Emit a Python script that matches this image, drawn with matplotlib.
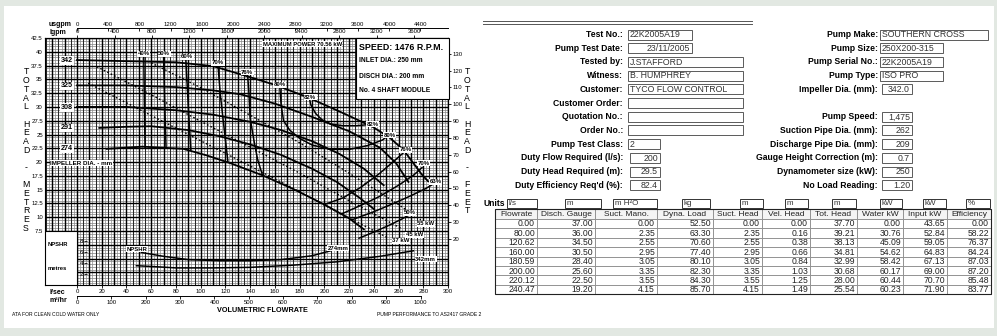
import numpy as np
import matplotlib
matplotlib.use("Agg")
import matplotlib.pyplot as plt
from matplotlib.patches import Rectangle

plt.rcParams['font.family'] = ['Liberation Sans', 'DejaVu Sans']

# ---------------- pump curve data ----------------
# impeller diameter curves: flow (l/s) against total head (m)
imp_342_q = [0, 40, 80, 110, 137, 160, 186, 213, 239, 253, 264, 272, 279, 284]
imp_342_h = [38.5, 38.3, 38.1, 37.4, 35.6, 34.0, 31.8, 29.1, 26.4, 24.4, 22.2, 19.8, 17.7, 16.5]
imp_325_q = [0, 40, 80, 110, 132, 160, 190, 220, 245, 258, 268]
imp_325_h = [33.9, 33.9, 33.6, 33.0, 32.3, 30.6, 28.2, 25.6, 22.6, 19.8, 16.4]
imp_308_q = [0, 40, 80, 110, 140, 165, 190, 212, 232, 248]
imp_308_h = [30.0, 30.0, 29.4, 28.6, 27.3, 25.8, 23.8, 21.5, 18.8, 15.8]
imp_291_q = [18, 40, 60, 90, 115, 140, 165, 190, 210, 228, 240]
imp_291_h = [26.2, 26.4, 26.5, 25.8, 24.7, 23.2, 21.3, 18.8, 16.4, 13.6, 11.5]
imp_274_q = [24, 53, 86, 105, 124, 150, 175, 200, 220, 232]
imp_274_h = [22.4, 22.8, 22.4, 21.2, 19.8, 17.6, 15.1, 12.3, 9.8, 7.8]
impellers = ["342", "325", "308", "291", "274"]

# efficiency contours (flow l/s, head m)
eff40_q = [54, 54.5, 55]
eff40_h = [39.0, 30.0, 22.7]
eff50_q = [70, 71, 72]
eff50_h = [39.0, 30.0, 22.6]
eff60_q = [88, 90, 92]
eff60_h = [38.6, 30.0, 22.3]
eff70_q = [114, 116, 119, 122]
eff70_h = [37.5, 32.0, 26.0, 20.1]
eff76_q = [138, 139, 140, 143, 146, 150]
eff76_h = [35.7, 32.5, 28.0, 24.0, 20.5, 17.6]
eff80_q = [164, 165, 167, 172, 180, 190, 205, 220, 235, 247, 251]
eff80_h = [33.6, 30.5, 27.5, 25.8, 24.3, 23.1, 22.3, 22.3, 23.0, 24.0, 24.7]
eff82_q = [188, 189, 193, 198, 205, 215, 226, 236]
eff82_h = [31.5, 30.4, 28.8, 27.7, 26.9, 26.6, 26.6, 26.8]
eff76r_q = [200, 215, 230, 245, 258, 265]
eff76r_h = [12.3, 13.5, 15.5, 18.0, 20.5, 21.9]
eff70r_q = [214, 230, 245, 260, 272, 279]
eff70r_h = [10.6, 12.2, 13.8, 15.8, 17.6, 19.0]
eff63r_q = [222, 240, 255, 270, 282, 288]
eff63r_h = [9.5, 11.0, 12.4, 13.9, 15.2, 16.0]
eff50r_q = [228, 240, 252, 262, 267]
eff50r_h = [6.2, 7.3, 8.5, 9.6, 10.2]

# absorbed power lines
pow55_q = [60, 100, 140, 180, 220, 260, 278]
pow55_h = [38.0, 33.5, 28.5, 23.5, 18.0, 12.3, 9.5]
pow45_q = [16, 60, 100, 140, 180, 220, 262]
pow45_h = [37.3, 32.2, 27.4, 22.7, 18.0, 13.0, 8.0]
pow37_q = [9, 50, 90, 126, 170, 210, 252]
pow37_h = [34.3, 29.6, 25.0, 20.9, 15.8, 11.0, 6.2]

# NPSH required (m)
npshr_274_q = [52, 70, 90, 115, 140, 165, 190, 205]
npshr_274_n = [5.9, 5.2, 4.6, 4.4, 4.4, 4.6, 5.3, 6.2]
npshr_342_q = [48, 65, 80, 110, 140, 175, 210, 245, 272]
npshr_342_n = [3.5, 3.3, 3.1, 3.1, 3.2, 3.6, 4.2, 5.2, 6.2]

# ---------------- test sheet data ----------------
left_labels = ["Test No.:", "Pump Test Date:", "Tested by:", "Witness:", "Customer:",
               "Customer Order:", "Quotation No.:", "Order No.:", "Pump Test Class:",
               "Duty Flow Required (l/s):", "Duty Head Required (m):",
               "Duty Efficiency Req'd (%):"]
left_values = ["22K2005A19", "23/11/2005", "J.STAFFORD", "B. HUMPHREY", "TYCO FLOW CONTROL",
               "", "", "", "2", "200", "29.5", "82.4"]
right_labels = ["Pump Make:", "Pump Size:", "Pump Serial No.:", "Pump Type:",
                "Impeller Dia. (mm):", "", "Pump Speed:", "Suction Pipe Dia. (mm):",
                "Discharge Pipe Dia. (mm):", "Gauge Height Correction (m):",
                "Dynamometer size (kW):", "No Load Reading:"]
right_values = ["SOUTHERN CROSS", "250X200-315", "22K2005A19", "ISO PRO", "342.0", None,
                "1,475", "262", "209", "0.7", "250", "1.20"]

units = ["l/s", "m", "m H²O", "kg", "m", "m", "m", "kW", "kW", "%"]
headers = ["Flowrate", "Disch. Gauge", "Suct. Mano.", "Dyna. Load", "Suct. Head",
           "Vel. Head", "Tot. Head", "Water kW", "Input kW", "Efficiency"]
flowrate = [0.00, 80.00, 120.62, 160.00, 180.59, 200.00, 220.12, 240.47]
disch_gauge = [37.00, 36.00, 34.50, 30.50, 28.40, 25.60, 22.50, 19.20]
suct_mano = [0.00, 2.35, 2.55, 2.95, 3.05, 3.35, 3.55, 4.15]
dyna_load = [52.50, 63.30, 70.60, 77.40, 80.10, 82.30, 84.30, 85.70]
suct_head = [0.00, 2.35, 2.55, 2.95, 3.05, 3.35, 3.55, 4.15]
vel_head = [0.00, 0.16, 0.38, 0.66, 0.84, 1.03, 1.25, 1.49]
tot_head = [37.70, 39.21, 38.13, 34.81, 32.99, 30.68, 28.00, 25.54]
water_kw = [0.00, 30.76, 45.09, 54.62, 58.42, 60.17, 60.44, 60.23]
input_kw = [43.65, 52.84, 59.05, 64.83, 67.13, 69.00, 70.70, 71.90]
efficiency = [0.00, 58.22, 76.37, 84.24, 87.03, 87.20, 85.48, 83.77]

# ---------------- figure ----------------
W, H = 997, 336
fig = plt.figure(figsize=(W / 100, H / 100), dpi=100)
fig.patch.set_facecolor('#e2e8e2')


def rect(x0, y0, x1, y1):
    return [x0 / W, 1 - y1 / H, (x1 - x0) / W, (y1 - y0) / H]


bg = fig.add_axes([0, 0, 1, 1], zorder=-10)
bg.set_xlim(0, W); bg.set_ylim(H, 0); bg.axis('off')
bg.add_patch(Rectangle((4, 6), 990, 322, fc='white', ec='none'))

# ---- performance chart ----
ax = fig.add_axes(rect(45, 38, 448, 285), zorder=1)
Q0, Q1 = -25.9, 300.0
H0, H1 = -2.29, 42.5
ax.set_xlim(Q0, Q1); ax.set_ylim(H0, H1)
ax.set_facecolor('white')

ax.vlines(np.arange(-25, 300.01, 2.5), H0, H1, colors='#8c8c8c', lw=0.5, zorder=1)
ax.vlines(np.arange(-25, 300.01, 5), H0, H1, colors='#262626', lw=0.75, zorder=1.1)
ax.vlines(np.arange(-20, 300.01, 10), H0, H1, colors='black', lw=1.0, zorder=1.2)
ax.hlines(np.arange(-2, 42.51, 0.5), Q0, Q1, colors='#8c8c8c', lw=0.55, zorder=1)
ax.hlines(np.arange(0, 42.51, 2.5), Q0, Q1, colors='black', lw=1.0, zorder=1.2)

for s in ax.spines.values():
    s.set_linewidth(0.8)

lab = dict(fontsize=4.3, fontweight='bold', ha='center', va='center', zorder=7,
           bbox=dict(fc='white', ec='none', pad=0.4))

imp_q = [imp_342_q, imp_325_q, imp_308_q, imp_291_q, imp_274_q]
imp_h = [imp_342_h, imp_325_h, imp_308_h, imp_291_h, imp_274_h]
for name, q, h in zip(impellers, imp_q, imp_h):
    ax.plot(q, h, color='black', lw=1.3, zorder=4)
    ax.text(-8, h[0] - (0.1 if q[0] == 0 else 0), name, fontsize=5.2, fontweight='bold',
            ha='center', va='center', zorder=7, bbox=dict(fc='white', ec='none', pad=0.6))

eff_lines = [(eff40_q, eff40_h), (eff50_q, eff50_h), (eff60_q, eff60_h), (eff70_q, eff70_h),
             (eff76_q, eff76_h), (eff80_q, eff80_h), (eff82_q, eff82_h),
             (eff76r_q, eff76r_h), (eff70r_q, eff70r_h), (eff63r_q, eff63r_h),
             (eff50r_q, eff50r_h)]
for q, h in eff_lines:
    ax.plot(q, h, color='black', lw=1.1, zorder=4)

for txt, q, h in [("40%", 54, 39.6), ("50%", 70.5, 39.6), ("60%", 89, 39.1), ("70%", 114, 38.0),
                  ("76%", 137.5, 36.3), ("80%", 164, 34.0), ("82%", 188.5, 31.8),
                  ("82%", 239, 26.9), ("80%", 252.5, 24.9), ("76%", 266, 22.2),
                  ("70%", 280, 19.8), ("63%", 290, 16.4), ("50%", 269, 10.8)]:
    ax.text(q, h, txt, **lab)

for q, h in [(pow55_q, pow55_h), (pow45_q, pow45_h), (pow37_q, pow37_h)]:
    ax.plot(q, h, color='black', lw=1.0, ls=(0, (1.2, 1.6)), zorder=4)
for txt, q, h in [("55 kW", 282, 8.8), ("45 kW", 273, 6.8), ("37 kW", 262, 5.7)]:
    ax.text(q, h, txt, **lab)

ax.text(150, 41.4, "MAXIMUM POWER 70.56 kW", fontsize=4.2, fontweight='bold', ha='left',
        va='center', zorder=7, bbox=dict(fc='white', ec='none', pad=0.4))
ax.text(-21.5, 19.8, "IMPELLER DIA. - mm", fontsize=4.5, fontweight='bold', ha='left',
        va='center', zorder=7, bbox=dict(fc='white', ec='none', pad=0.5))

ax.add_patch(Rectangle((Q0, H0), -Q0, 7.5 - H0, fc='white', ec='black', lw=0.8, zorder=5))

# bottom flow scale (l/s)
ax.set_xticks(np.arange(0, 301, 20))
ax.tick_params(axis='x', direction='out', length=2, width=0.6, labelsize=4.3, pad=1)
head_ticks = np.arange(7.5, 42.51, 2.5)
ax.set_yticks(head_ticks)
ax.set_yticklabels([f"{t:g}" for t in head_ticks])
ax.tick_params(axis='y', length=0, labelsize=4.3, pad=1.5)

m3 = ax.secondary_xaxis(-11 / 247, functions=(lambda q: q * 3.6, lambda m: m / 3.6))
m3.set_xticks(np.arange(0, 1001, 100))
m3.tick_params(direction='out', length=2, width=0.6, labelsize=4.3, pad=1)
m3.spines['bottom'].set_bounds(0, 1000)
m3.spines['bottom'].set_linewidth(0.7)

ig = ax.secondary_xaxis('top', functions=(lambda q: q * 13.198, lambda g: g / 13.198))
ig.set_xticks(np.arange(0, 3601, 400))
ig.tick_params(direction='out', length=2, width=0.6, labelsize=4.3, pad=0.8)

us = ax.secondary_xaxis(1 + 10 / 247, functions=(lambda q: q * 15.850, lambda g: g / 15.850))
us.set_xticks(np.arange(0, 4401, 400))
us.tick_params(direction='in', length=2, width=0.6, labelsize=4.3, pad=1)
us.spines['top'].set_bounds(0, 4755)
us.spines['top'].set_linewidth(0.7)

ft = ax.secondary_yaxis('right', functions=(lambda m: m * 3.28084, lambda f: f / 3.28084))
ft.set_yticks(np.arange(20, 131, 10))
ft.tick_params(direction='out', length=2.5, width=0.6, labelsize=4.3, pad=1)

# NPSH required scale, same metre spacing as head
ax2 = fig.add_axes(rect(45, 38, 448, 285), zorder=2, sharex=ax)
ax2.patch.set_alpha(0)
ax2.set_ylim(0, H1 - H0)
for s in ax2.spines.values():
    s.set_visible(False)
ax2.spines['left'].set_position(('data', 6))
ax2.set_yticks([2, 4, 6, 8])
ax2.tick_params(axis='y', direction='in', length=2, width=0.6, labelsize=4.3, pad=1)
ax2.tick_params(axis='x', bottom=False, labelbottom=False)
ax2.plot(npshr_274_q, npshr_274_n, color='black', lw=1.1)
ax2.plot(npshr_342_q, npshr_342_n, color='black', lw=1.1)
ax2.text(48.5, 6.5, "NPSHR", **lab)
ax2.text(211, 6.7, "274mm", **lab)
ax2.text(282, 4.7, "342mm", **lab)

# ---- overlay texts (pixel coordinates) ----
fa = fig.add_axes([0, 0, 1, 1], zorder=10)
fa.set_xlim(0, W); fa.set_ylim(H, 0); fa.axis('off')

fa.add_patch(Rectangle((356, 38), 93, 61, fc='white', ec='black', lw=0.8))
fa.text(359, 47, "SPEED: 1476 R.P.M.", fontsize=6.4, fontweight='bold', va='center')
fa.text(359, 61, "INLET DIA.: 250 mm", fontsize=4.8, fontweight='bold', va='center')
fa.text(359, 76, "DISCH DIA.: 200 mm", fontsize=4.8, fontweight='bold', va='center')
fa.text(359, 91, "No. 4 SHAFT MODULE", fontsize=4.8, fontweight='bold', va='center')

fa.text(49, 24, "usgpm", fontsize=5, fontweight='bold', va='center')
fa.text(49, 33, "Igpm", fontsize=5, fontweight='bold', va='center')
fa.text(49, 292, "l/sec", fontsize=5, fontweight='bold', va='center')
fa.text(49, 301, "m³/hr", fontsize=5, fontweight='bold', va='center')
fa.text(48, 245, "NPSHR", fontsize=4.2, fontweight='bold', va='center')
fa.text(48, 268, "metres", fontsize=4.2, fontweight='bold', va='center')
fa.text(262, 311, "VOLUMETRIC FLOWRATE", fontsize=5.2, fontweight='bold', ha='center', va='center')
fa.text(12, 315, "ATA FOR CLEAN COLD WATER ONLY", fontsize=3.6, va='center')
fa.text(377, 315, "PUMP PERFORMANCE TO AS2417 GRADE 2", fontsize=3.6, va='center')

left_title = ["T", "O", "T", "A", "L", "", "H", "E", "A", "D", "", "-", "", "M", "E", "T", "R", "E", "S"]
right_title = ["T", "O", "T", "A", "L", "", "H", "E", "A", "D", "", "-", "", "F", "E", "E", "T"]
for i, ch in enumerate(left_title):
    if ch:
        fa.text(26, 72 + i * 8.67, ch, fontsize=6.3, ha='center', va='center')
for i, ch in enumerate(right_title):
    if ch:
        fa.text(467, 72 + i * 8.67, ch, fontsize=6.3, ha='center', va='center')

# ---- test sheet ----
fa.plot([483, 752], [21.3, 21.3], color='#555555', lw=0.7)
fa.plot([483, 752], [23.6, 23.6], color='#555555', lw=0.7)

LFS, VFS = 6.2, 6.3


def row_y(i):
    return 34.5 + 13.7 * i


def field(x0, x1, y, text, align):
    fa.add_patch(Rectangle((x0, y - 5), x1 - x0, 10, fc='white', ec='#5a5a5a', lw=0.7))
    if text:
        if align == 'r':
            fa.text(x1 - 2, y + 0.3, text, fontsize=VFS, ha='right', va='center', color='#333333')
        else:
            fa.text(x0 + 1.5, y + 0.3, text, fontsize=VFS, ha='left', va='center', color='#333333')


left_boxes = [(628, 692, 'l'), (628, 692, 'r'), (628, 743, 'l'), (628, 743, 'l'),
              (628, 743, 'l'), (628, 743, 'l'), (628, 743, 'l'), (628, 743, 'l'),
              (628, 660, 'l'), (630, 660, 'r'), (630, 660, 'r'), (630, 660, 'r')]
for i, (lbl, val, (x0, x1, al)) in enumerate(zip(left_labels, left_values, left_boxes)):
    y = row_y(i)
    fa.text(623, y, lbl, fontsize=LFS, fontweight='bold', ha='right', va='center')
    field(x0, x1, y, val, al)

right_boxes = [(880, 988, 'l'), (880, 943, 'l'), (880, 943, 'l'), (880, 943, 'l'),
               (882, 912, 'r'), None, (882, 912, 'r'), (882, 912, 'r'), (882, 912, 'r'),
               (882, 912, 'r'), (882, 912, 'r'), (882, 912, 'r')]
for i, (lbl, val, box) in enumerate(zip(right_labels, right_values, right_boxes)):
    if box is None:
        continue
    y = row_y(i)
    fa.text(878, y, lbl, fontsize=LFS, fontweight='bold', ha='right', va='center')
    field(box[0], box[1], y, val, box[2])

# units row
fa.text(483, 203.5, "Units", fontsize=LFS, fontweight='bold', va='center')
unit_boxes = [(507, 537), (565, 601), (613, 657), (682, 710), (740, 763), (785, 808),
              (832, 856), (880, 902), (923, 946), (966, 990)]
for u, (x0, x1) in zip(units, unit_boxes):
    fa.add_patch(Rectangle((x0, 199), x1 - x0, 9, fc='white', ec='#333333', lw=0.7))
    fa.text(x0 + 1.5, 203.8, u, fontsize=5.8, va='center', color='#333333')

columns = [flowrate, disch_gauge, suct_mano, dyna_load, suct_head, vel_head,
           tot_head, water_kw, input_kw, efficiency]
col_right = [537, 595, 657, 713, 762, 810, 857, 903, 947, 991]
col_left = [495] + col_right[:-1]
hdr_top, hdr_bot, row_h = 208.5, 219, 9.4
for j, (hd, col) in enumerate(zip(headers, columns)):
    x0, x1 = col_left[j], col_right[j]
    fa.add_patch(Rectangle((x0, hdr_top), x1 - x0, hdr_bot - hdr_top, fc='#f4f4f4',
                           ec='#8a8a8a', lw=0.6))
    fa.text((x0 + x1) / 2, (hdr_top + hdr_bot) / 2 + 0.3, hd, fontsize=6.0, ha='center',
            va='center', color='#222222')
    for i, v in enumerate(col):
        y0 = hdr_bot + i * row_h
        fa.add_patch(Rectangle((x0, y0), x1 - x0, row_h, fc='white', ec='#8a8a8a', lw=0.6))
        fa.text(x1 - 2, y0 + row_h / 2 + 0.3, f"{v:.2f}", fontsize=6.2, ha='right',
                va='center', color='#222222')
tbl_bottom = hdr_bot + len(flowrate) * row_h
fa.add_patch(Rectangle((495, hdr_top), 991 - 495, tbl_bottom - hdr_top, fc='none',
                       ec='#222222', lw=0.8))

fig.savefig("out.png", dpi=100, facecolor=fig.get_facecolor())
